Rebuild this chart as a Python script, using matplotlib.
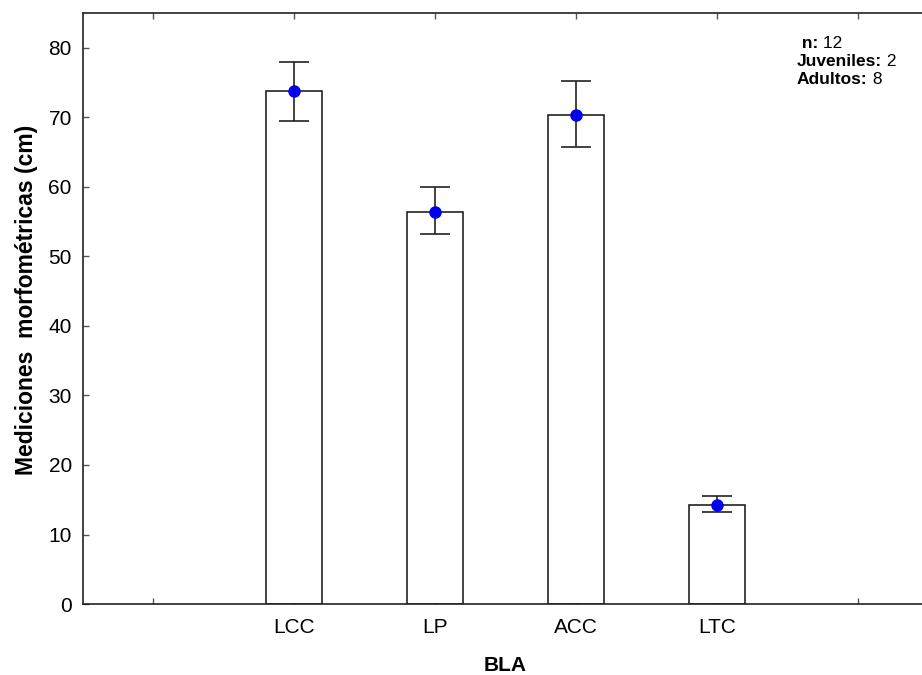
import matplotlib.pyplot as plt
import numpy as np

categorias = ['LCC', 'LP', 'ACC', 'LTC']
medias = [73.7, 56.4, 70.3, 14.3]
err_sup = [78.0, 59.9, 75.2, 15.6]
err_inf = [69.4, 53.2, 65.7, 13.2]

plt.rcParams['font.family'] = ['Liberation Sans', 'DejaVu Sans']

fig = plt.figure(figsize=(9.22, 6.75), dpi=100)
ax = fig.add_axes([0.090, 0.105, 0.9165, 0.876])

x = np.arange(1, len(categorias) + 1)
medias = np.array(medias)
yerr = [medias - np.array(err_inf), np.array(err_sup) - medias]

ax.bar(x, medias, width=0.4, color='white', edgecolor='#222222', linewidth=1.2, zorder=2)
ax.errorbar(x, medias, yerr=yerr, fmt='o', color='#222222', ecolor='#222222',
            elinewidth=1.2, capsize=11, capthick=1.2, markersize=8,
            markerfacecolor='#0000ee', markeredgecolor='#0000ee', zorder=3)

ax.set_xlim(-0.5, 5.5)
ax.set_ylim(0, 85)
ax.set_xticks(np.arange(0, 6))
ax.set_xticklabels([''] + categorias + [''])
ax.set_yticks(np.arange(0, 81, 10))
ax.tick_params(direction='in', length=4, width=1, labelsize=15, top=True, right=True,
               pad=8, color='#555555')
ax.tick_params(axis='x', pad=10)
for s in ax.spines.values():
    s.set_linewidth(1.2)
    s.set_color('#222222')

ax.set_ylabel('Mediciones  morfométricas (cm)', fontsize=16.5, fontweight='bold')
ax.yaxis.set_label_coords(-0.067, 0.514)
ax.set_xlabel('BLA', fontsize=15, fontweight='bold')
ax.xaxis.set_label_coords(0.4995, -0.103)
ax.xaxis.label.set_va('center')
ax.yaxis.label.set_va('center')

# texto con etiqueta en negrita y valor normal
fig.canvas.draw()
renderer = fig.canvas.get_renderer()
lineas = [(' n:', ' 12'), ('Juveniles:', ' 2'), ('Adultos:', ' 8')]
y0 = 675 - 43
for i, (lab, val) in enumerate(lineas):
    yy = (y0 - i * 18.5) / 675
    t = fig.text(797 / 922, yy, lab, fontsize=12.5, fontweight='bold', va='center', ha='left')
    bb = t.get_window_extent(renderer)
    fig.text(bb.x1 / 922, yy, val, fontsize=12.5, va='center', ha='left')

fig.savefig('out.png', dpi=100)
